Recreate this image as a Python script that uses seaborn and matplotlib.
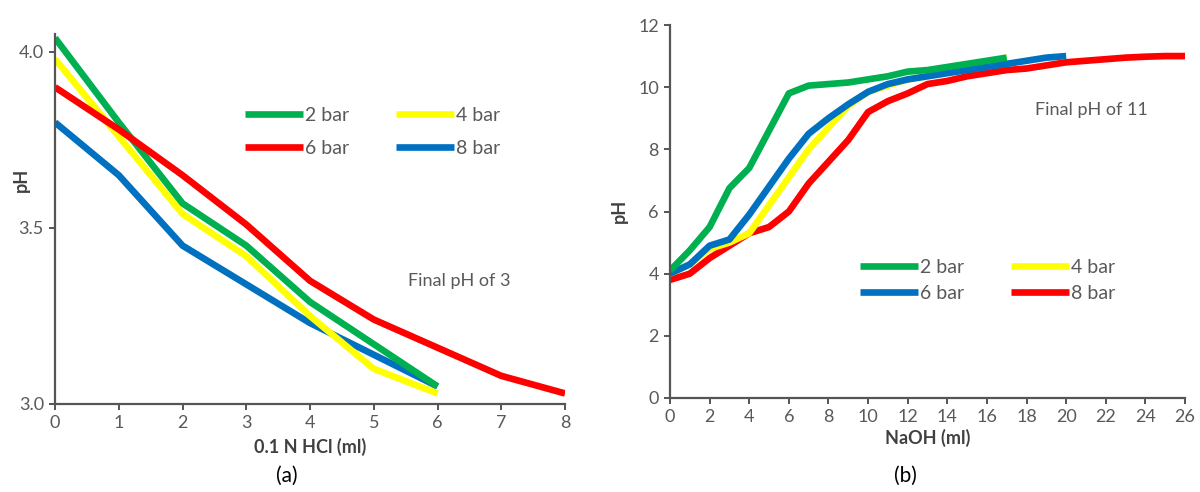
import numpy as np
import pandas as pd
import matplotlib
matplotlib.use("Agg")
import matplotlib.pyplot as plt
import seaborn as sns

# ---- Panel (a): titration with 0.1 N HCl ----
hcl_ml_short = [0, 1, 2, 3, 4, 5, 6]
hcl_ml_long = [0, 1, 2, 3, 4, 5, 6, 7, 8]
a_2bar = [4.04, 3.80, 3.57, 3.45, 3.29, 3.17, 3.05]
a_4bar = [3.98, 3.76, 3.54, 3.42, 3.25, 3.10, 3.03]
a_6bar = [3.90, 3.78, 3.65, 3.51, 3.35, 3.24, 3.16, 3.08, 3.03]
a_8bar = [3.80, 3.65, 3.45, 3.34, 3.23, 3.14, 3.05]

# ---- Panel (b): titration with NaOH ----
naoh_17 = list(range(0, 18))
naoh_20 = list(range(0, 21))
naoh_26 = list(range(0, 27))
b_2bar = [4.1, 4.75, 5.5, 6.75, 7.4, 8.6, 9.8, 10.05, 10.1, 10.15, 10.25, 10.35,
          10.5, 10.55, 10.65, 10.75, 10.85, 10.95]
b_4bar = [4.0, 4.3, 4.8, 5.0, 5.3, 6.2, 7.1, 8.0, 8.7, 9.4, 9.85, 10.05,
          10.25, 10.35, 10.5, 10.65, 10.8, 10.95]
b_6bar = [4.0, 4.3, 4.9, 5.1, 5.9, 6.8, 7.7, 8.5, 9.0, 9.45, 9.85, 10.1,
          10.25, 10.35, 10.45, 10.55, 10.65, 10.75, 10.85, 10.95, 11.0]
b_8bar = [3.8, 4.0, 4.5, 4.9, 5.3, 5.5, 6.0, 6.9, 7.6, 8.3, 9.2, 9.55, 9.8,
          10.1, 10.2, 10.35, 10.45, 10.55, 10.6, 10.7, 10.8, 10.85, 10.9,
          10.95, 10.98, 11.0, 11.0]

GREEN, YELLOW, RED, BLUE = "#00B050", "#FFFF00", "#FF0000", "#0070C0"
GRAY = "#595959"

sns.set_theme(style="white")
plt.rcParams["font.family"] = ["Lato", "DejaVu Sans"]

fig = plt.figure(figsize=(12, 4.92), dpi=100)
axa = fig.add_axes([55 / 1200, 1 - 404 / 492, 510 / 1200, (1.05 * 352) / 492])
axb = fig.add_axes([670 / 1200, 1 - 398 / 492, 515 / 1200, 373 / 492])

LW = 4.8

def draw(ax, x, y, color, label):
    sns.lineplot(x=x, y=y, ax=ax, color=color, linewidth=LW, label=label,
                 solid_capstyle="butt", solid_joinstyle="round")

# panel a
draw(axa, hcl_ml_short, a_8bar, BLUE, "8 bar")
draw(axa, hcl_ml_short, a_4bar, YELLOW, "4 bar")
draw(axa, hcl_ml_short, a_2bar, GREEN, "2 bar")
draw(axa, hcl_ml_long, a_6bar, RED, "6 bar")

# panel b
draw(axb, naoh_26, b_8bar, RED, "8 bar")
draw(axb, naoh_17, b_4bar, YELLOW, "4 bar")
draw(axb, naoh_20, b_6bar, BLUE, "6 bar")
draw(axb, naoh_17, b_2bar, GREEN, "2 bar")

def style(ax, xlim, ylim, xticks, yticks, yfmt):
    ax.set_xlim(*xlim)
    ax.set_ylim(*ylim)
    ax.set_xticks(xticks)
    ax.set_yticks(yticks)
    ax.set_yticklabels([yfmt.format(v) for v in yticks])
    for s in ["top", "right"]:
        ax.spines[s].set_visible(False)
    for s in ["left", "bottom"]:
        ax.spines[s].set_color("#555555")
        ax.spines[s].set_linewidth(1.6)
    ax.tick_params(axis="both", direction="out", length=4, width=1.4,
                   color="#555555", labelcolor=GRAY, labelsize=13, pad=4,
                   bottom=True, left=True)
    ax.grid(False)

style(axa, (0, 8), (3.0, 4.05), range(0, 9), [3.0, 3.5, 4.0], "{:.1f}")
style(axb, (0, 26), (0, 12), range(0, 27, 2), list(range(0, 13, 2)), "{:d}")

lab = dict(fontsize=13, fontweight="bold", color="#404040")
axa.set_xlabel("0.1 N HCl (ml)", labelpad=5, **lab)
axb.set_xlabel("NaOH (ml)", labelpad=3, **lab)
axa.set_ylabel("pH", **lab)
axb.set_ylabel("pH", **lab)
axa.yaxis.set_label_coords(*axa.transAxes.inverted().transform(
    fig.transFigure.transform((30 / 1200, 1 - 180 / 492))))
axb.yaxis.set_label_coords(*axb.transAxes.inverted().transform(
    fig.transFigure.transform((628 / 1200, 1 - 211 / 492))))

def legend(ax, order, anchor, spacing):
    h, l = ax.get_legend_handles_labels()
    d = dict(zip(l, h))
    leg = ax.legend([d[k] for k in order], order, ncol=2, frameon=False,
                    loc="upper left", bbox_to_anchor=anchor, fontsize=14,
                    handlelength=3.0, handletextpad=0.1, columnspacing=2.4,
                    labelspacing=spacing, borderaxespad=0, borderpad=0)
    for t in leg.get_texts():
        t.set_color(GRAY)

legend(axa, ["2 bar", "6 bar", "4 bar", "8 bar"],
       axa.transAxes.inverted().transform(fig.transFigure.transform((245 / 1200, 1 - 107 / 492))), 0.8)
legend(axb, ["2 bar", "6 bar", "4 bar", "8 bar"],
       axb.transAxes.inverted().transform(fig.transFigure.transform((860 / 1200, 1 - 259 / 492))), 0.45)

fig.text(408 / 1200, 1 - 281 / 492, "Final pH of 3", fontsize=13, color=GRAY, va="center")
fig.text(1035 / 1200, 1 - 110 / 492, "Final pH of 11", fontsize=13, color=GRAY, va="center")
fig.text(287 / 1200, 1 - 476 / 492, "(a)", fontsize=15, color="black", ha="center", va="center")
fig.text(905 / 1200, 1 - 476 / 492, "(b)", fontsize=15, color="black", ha="center", va="center")

fig.savefig("out.png", dpi=100, facecolor="white")
